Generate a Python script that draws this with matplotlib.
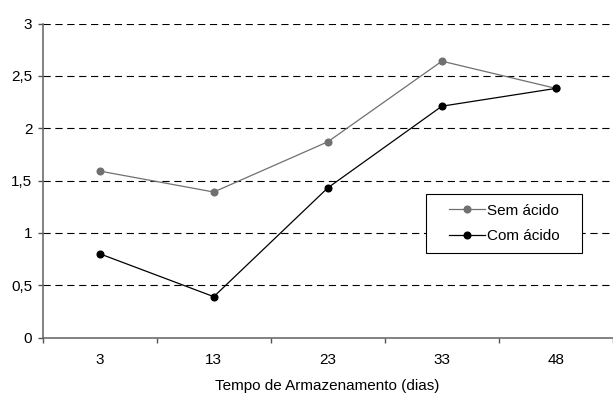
import matplotlib
matplotlib.use("Agg")
import matplotlib.pyplot as plt
from matplotlib.patches import Rectangle
import numpy as np

plt.rcParams['font.family'] = ['Liberation Sans', 'DejaVu Sans']

dias = ["3", "13", "23", "33", "48"]
sem_acido = [1.59, 1.39, 1.87, 2.64, 2.38]
com_acido = [0.80, 0.39, 1.43, 2.21, 2.38]

W, H = 613, 394
fig = plt.figure(figsize=(W / 100, H / 100), dpi=100)
left, right, top, bottom = 42.7, 613.0, 23.5, 337.5
ax = fig.add_axes([left / W, 1 - bottom / H, (right - left) / W, (bottom - top) / H])

x = np.arange(len(dias))
ax.plot(x, sem_acido, color="#707070", lw=0.9, marker="o", ms=4.8,
        label="Sem ácido", zorder=3)
ax.plot(x, com_acido, color="#000000", lw=0.9, marker="o", ms=4.8,
        label="Com ácido", zorder=3)

ax.set_xlim(-0.5, len(dias) - 0.5)
ax.set_ylim(0, 3)
ax.set_yticks(np.arange(0, 3.01, 0.5))
ax.set_yticklabels(["0", "0,5", "1", "1,5", "2", "2,5", "3"])
ax.set_xticks(x)
ax.set_xticklabels(dias)
ax.set_xticks(np.arange(-0.5, len(dias), 1.0), minor=True)
ax.tick_params(axis="x", which="major", length=0, pad=11, labelsize=11)
ax.tick_params(axis="x", which="minor", length=3.5, direction="out",
               color="#555555", width=1.0)
ax.tick_params(axis="y", length=3.5, direction="out", color="#555555",
               width=1.0, labelsize=11, pad=4)

for yv in np.arange(0.5, 3.01, 0.5):
    ax.axhline(yv, color="black", lw=0.8, ls=(0, (6.5, 4.2)), zorder=1)

for side in ["top", "right"]:
    ax.spines[side].set_visible(False)
for side in ["left", "bottom"]:
    ax.spines[side].set_color("#606060")
    ax.spines[side].set_linewidth(1.1)

ax.set_xlabel("Tempo de Armazenamento (dias)", fontsize=11)
ax.xaxis.set_label_coords(0.5 * (214 + 440) / W, 1 - 386 / H, transform=fig.transFigure)
ax.xaxis.label.set_verticalalignment("center")

# legend box drawn as its own rectangle so the padding can differ per side
bx0, bx1, by0, by1 = 426, 582, 194, 253
fig.patches.append(Rectangle((bx0 / W, 1 - by1 / H), (bx1 - bx0) / W, (by1 - by0) / H,
                             transform=fig.transFigure, facecolor="white",
                             edgecolor="black", lw=0.8, zorder=5))
leg = fig.legend(*ax.get_legend_handles_labels(), loc="center left",
                 bbox_to_anchor=(449 / W, 1 - 223.5 / H), frameon=False,
                 fontsize=11, borderpad=0, borderaxespad=0,
                 handlelength=2.35, handletextpad=0.15, labelspacing=0.75)
leg.set_zorder(6)

fig.savefig("out.png", dpi=100)
